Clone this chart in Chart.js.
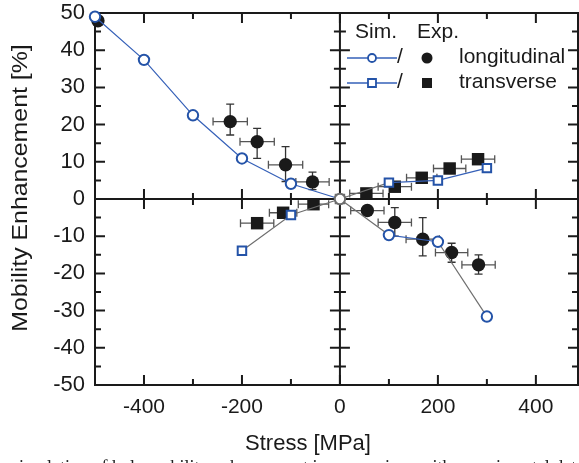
<!DOCTYPE html>
<html>
<head>
<meta charset="utf-8">
<script src="https://cdn.jsdelivr.net/npm/chart.js@4.4.0/dist/chart.umd.min.js"></script>
<style>
  html, body { margin: 0; padding: 0; background: #fff; overflow: hidden; }
  #wrap { position: relative; width: 579px; height: 463px; overflow: hidden; }
  #chart { display: block; }
  #caption { position: absolute; left: 12px; top: 458px; font: 18px/18px 'Liberation Serif', 'Times New Roman', serif; color: #222; white-space: nowrap; }
</style>
</head>
<body>
<div id="wrap">
  <canvas id="chart" width="579" height="463" style="width:579px;height:463px"></canvas>
  <div id="caption">simulation of hole mobility enhancement in comparison with experimental data</div>
</div>
<script>
// simulation (open markers joined by lines)
const simLongStress = [-500, -400, -300, -200, -100, 0, 100, 200, 300];
const simLong = [49, 37.4, 22.5, 10.9, 4.1, 0, -9.7, -11.5, -31.6];
const simTransStress = [-200, -100, 0, 100, 200, 300];
const simTrans = [-13.9, -4.3, 0, 4.4, 5.0, 8.3];

// experiment (filled markers with error bars)
const expLongStress = [-494, -224, -169, -111, -56, 56, 112, 169, 228, 283];
const expLong = [47.9, 20.8, 15.4, 9.2, 4.6, -3.1, -6.3, -10.8, -14.4, -17.7];
const expLongErrX = [0, 35, 35, 35, 34, 34, 34, 34, 33, 34];
const expLongErrLo = [0, 3.6, 4.5, 4.5, 2.1, 1.2, 3.7, 4.5, 2.6, 2.5];
const expLongErrHi = [0, 4.7, 3.6, 4.9, 2.6, 1.2, 4.0, 5.8, 2.5, 2.7];
const expTransStress = [-169, -116, -54, 54, 112, 167, 224, 282];
const expTrans = [-6.5, -3.7, -1.4, 1.5, 3.3, 5.7, 8.2, 10.7];
const expTransErrX = [34, 28, 31, 34, 34, 31, 33, 34];
const expTransErrY = [1, 1, 1, 1, 1, 1, 1, 1];

const xTickLabels = [-400, -200, 0, 200, 400];
const yTickLabels = [-50, -40, -30, -20, -10, 0, 10, 20, 30, 40, 50];
const legendLabels = ['longitudinal', 'transverse'];

const FONT = "'Liberation Sans', Arial, Helvetica, sans-serif";
const INK = '#1a1a1a';
const BLUE = '#2453a8';
const BLUE_LINE = '#3560b8';
const GRAY = '#6e6e6e';

// which line pieces are drawn blue or grey in the original
const simLongSeg = ['b', 'b', 'b', 'b', 'b', 'g', 'b', 'g'];
const simTransSeg = ['g', 'g', 'g', 'b', 'b'];
const segColor = s => (s === 'b' ? BLUE_LINE : GRAY);

const pts = (xs, ys) => xs.map((x, i) => ({ x, y: ys[i] }));

const noPad = s => { s.paddingTop = 0; s.paddingBottom = 0; s.paddingLeft = 0; s.paddingRight = 0; };

const axesDecor = {
    id: 'axesDecor',
    beforeDatasetsDraw(chart) {
        const { ctx, chartArea: a, scales: { x, y } } = chart;
        const x0 = x.getPixelForValue(0), y0 = y.getPixelForValue(0);
        ctx.save();
        ctx.strokeStyle = INK;
        ctx.lineWidth = 2;
        ctx.strokeRect(a.left, a.top, a.right - a.left, a.bottom - a.top);
        ctx.beginPath();
        ctx.moveTo(a.left, y0); ctx.lineTo(a.right, y0);
        ctx.moveTo(x0, a.top); ctx.lineTo(x0, a.bottom);
        ctx.stroke();

        ctx.beginPath();
        for (let v = -400; v <= 500; v += 100) {
            const px = x.getPixelForValue(v);
            if (px > a.right - 2) break;
            const L = v % 200 === 0 ? 10 : 6;
            ctx.moveTo(px, a.bottom); ctx.lineTo(px, a.bottom - L);
            ctx.moveTo(px, a.top); ctx.lineTo(px, a.top + L);
            if (v !== 0) { ctx.moveTo(px, y0 - L); ctx.lineTo(px, y0 + L); }
        }
        for (let v = -45; v <= 45; v += 5) {
            const py = y.getPixelForValue(v);
            const L = v % 10 === 0 ? 10 : 6;
            ctx.moveTo(a.left, py); ctx.lineTo(a.left + L, py);
            ctx.moveTo(a.right, py); ctx.lineTo(a.right - L, py);
            if (v !== 0) { ctx.moveTo(x0 - L, py); ctx.lineTo(x0 + L, py); }
        }
        ctx.stroke();

        // error bars, under the markers
        const bars = (xs, ys, ex, lo, hi) => {
            xs.forEach((sx, i) => {
                const px = x.getPixelForValue(sx), py = y.getPixelForValue(ys[i]);
                ctx.lineWidth = 1.3;
                if (ex[i] > 0) {
                    const l = x.getPixelForValue(sx - ex[i]), r = x.getPixelForValue(sx + ex[i]);
                    ctx.strokeStyle = '#555';
                    ctx.beginPath();
                    ctx.moveTo(l, py); ctx.lineTo(r, py);
                    ctx.moveTo(l, py - 4); ctx.lineTo(l, py + 4);
                    ctx.moveTo(r, py - 4); ctx.lineTo(r, py + 4);
                    ctx.stroke();
                }
                if (hi[i] > 0 || lo[i] > 0) {
                    const t = y.getPixelForValue(ys[i] + hi[i]), b = y.getPixelForValue(ys[i] - lo[i]);
                    ctx.strokeStyle = '#333';
                    ctx.beginPath();
                    ctx.moveTo(px, t); ctx.lineTo(px, b);
                    ctx.moveTo(px - 4, t); ctx.lineTo(px + 4, t);
                    ctx.moveTo(px - 4, b); ctx.lineTo(px + 4, b);
                    ctx.stroke();
                }
            });
        };
        bars(expLongStress, expLong, expLongErrX, expLongErrLo, expLongErrHi);
        bars(expTransStress, expTrans, expTransErrX, expTransErrY, expTransErrY);
        ctx.restore();
    },
    afterDraw(chart) {
        const ctx = chart.ctx;
        ctx.save();
        ctx.fillStyle = INK;
        ctx.textAlign = 'center';
        ctx.textBaseline = 'middle';
        ctx.font = `22px ${FONT}`;
        ctx.fillText('Stress [MPa]', 308, 444);
        ctx.save();
        ctx.translate(21, 188);
        ctx.rotate(-Math.PI / 2);
        ctx.scale(1.13, 1);
        ctx.fillText('Mobility Enhancement [%]', 0, 0);
        ctx.restore();

        // legend: Sim. / Exp. columns
        ctx.textAlign = 'left';
        ctx.font = `21px ${FONT}`;
        ctx.fillText('Sim.', 355, 32);
        ctx.fillText('Exp.', 417, 32);
        legendLabels.forEach((label, i) => {
            const cy = 58 + i * 25;
            ctx.strokeStyle = BLUE_LINE;
            ctx.lineWidth = 1.3;
            ctx.beginPath(); ctx.moveTo(347, cy); ctx.lineTo(397, cy); ctx.stroke();
            ctx.strokeStyle = BLUE;
            ctx.fillStyle = '#fff';
            ctx.lineWidth = 1.8;
            ctx.beginPath();
            if (i === 0) ctx.arc(372, cy, 4, 0, Math.PI * 2); else ctx.rect(368, cy - 4, 8, 8);
            ctx.fill(); ctx.stroke();
            ctx.fillStyle = INK;
            ctx.fillText('/', 397, cy - 1);
            ctx.beginPath();
            if (i === 0) ctx.arc(427, cy, 5.5, 0, Math.PI * 2); else ctx.rect(422, cy - 5, 10, 10);
            ctx.fill();
            ctx.fillText(label, 459, cy - 1);
        });
        ctx.restore();
    }
};

new Chart(document.getElementById('chart'), {
    type: 'scatter',
    data: {
        datasets: [
            {
                label: 'Sim. longitudinal',
                data: pts(simLongStress, simLong),
                showLine: true,
                borderWidth: 1.2,
                borderColor: BLUE_LINE,
                segment: { borderColor: c => segColor(simLongSeg[c.p0DataIndex]) },
                pointStyle: 'circle',
                pointRadius: 5.2,
                pointBorderWidth: 2,
                pointBackgroundColor: '#fff',
                pointBorderColor: simLongStress.map(v => (v === 0 ? GRAY : BLUE)),
                clip: false
            },
            {
                label: 'Sim. transverse',
                data: pts(simTransStress, simTrans),
                showLine: true,
                borderWidth: 1.2,
                borderColor: GRAY,
                segment: { borderColor: c => segColor(simTransSeg[c.p0DataIndex]) },
                pointStyle: 'rect',
                pointRadius: 6,
                pointBorderWidth: 2,
                pointBackgroundColor: '#fff',
                pointBorderColor: simTransStress.map(v => (v === 0 ? GRAY : BLUE)),
                clip: false
            },
            {
                label: 'Exp. longitudinal',
                data: pts(expLongStress, expLong),
                pointStyle: 'circle',
                pointRadius: 6.7,
                pointBorderWidth: 0,
                pointBackgroundColor: INK,
                clip: false
            },
            {
                label: 'Exp. transverse',
                data: pts(expTransStress, expTrans),
                pointStyle: 'rect',
                pointRadius: 8.8,
                pointBorderWidth: 0,
                pointBackgroundColor: INK,
                clip: false
            }
        ]
    },
    options: {
        responsive: false,
        animation: false,
        devicePixelRatio: 1,
        layout: { autoPadding: false, padding: { top: 13, right: 1, left: 0, bottom: 0 } },
        plugins: { legend: { display: false }, tooltip: { enabled: false } },
        scales: {
            x: {
                type: 'linear',
                min: -500,
                max: 486,
                grid: { display: false, drawTicks: false },
                border: { display: false },
                afterBuildTicks: s => { s.ticks = xTickLabels.map(v => ({ value: v })); },
                afterFit: s => { s.height = 78; noPad(s); },
                ticks: { padding: 10, autoSkip: false, maxRotation: 0, color: INK, font: { family: FONT, size: 21 } }
            },
            y: {
                type: 'linear',
                min: -50,
                max: 50,
                grid: { display: false, drawTicks: false },
                border: { display: false },
                afterBuildTicks: s => { s.ticks = yTickLabels.map(v => ({ value: v })); },
                afterFit: s => { s.width = 95; noPad(s); },
                ticks: { padding: 10, autoSkip: false, color: INK, font: { family: FONT, size: 22 } }
            }
        }
    },
    plugins: [axesDecor]
});
</script>
</body>
</html>
